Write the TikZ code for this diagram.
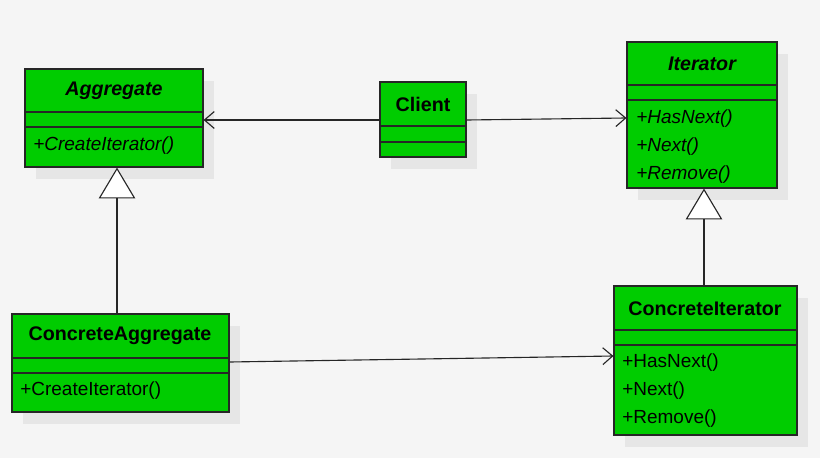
\documentclass[tikz,border=0pt]{standalone}
\usepackage{fontspec}
\setmainfont{Liberation Sans}
\usetikzlibrary{positioning,arrows.meta}
\definecolor{umlgreen}{HTML}{00CC00}
\definecolor{bgray}{HTML}{F5F5F5}
\definecolor{shgray}{HTML}{E6E6E6}
\tikzset{
  cls/.style={draw=black!85,thick,fill=umlgreen,inner sep=0pt},
  title/.style={font=\bfseries\fontsize{14}{16}\selectfont},
  meth/.style={font=\fontsize{13.5}{17}\selectfont,anchor=north west,align=left,inner sep=0pt},
  assoc/.style={draw=black!85,thick,-{Straight Barb[length=7pt,width=12pt]}},
  inherit/.style={draw=black!85,thick,-{Triangle[open,length=22pt,width=26pt,fill=white]}}
}
% box macro: name, left, top, right, bottom, line1, line2
\newcommand{\umlbox}[7]{%
  \fill[shgray] (#2+11,#3+12) rectangle (#4+11,#5+12);
  \node[cls,minimum width={(#4-#2)*0.025cm},minimum height={(#5-#3)*0.025cm}] (#1) at ({(#2+#4)/2},{(#3+#5)/2}) {};
  \draw[black!85,thick] (#2,#6) -- (#4,#6);
  \draw[black!85,thick] (#2,#7) -- (#4,#7);
}
\begin{document}
\begin{tikzpicture}[x=0.025cm,y=-0.025cm]
  \fill[bgray] (0,0) rectangle (820,458);
  \useasboundingbox (0,0) rectangle (820,458);

  \umlbox{aggr}{25}{69}{203}{167}{112}{127}
  \umlbox{client}{380}{82}{466}{157}{126}{142}
  \umlbox{iter}{627}{42}{777}{188}{85}{100}
  \umlbox{caggr}{12}{314}{229}{412}{358}{373}
  \umlbox{citer}{614}{286}{797}{435}{330}{345}

  \node[title,font=\bfseries\itshape\fontsize{14}{16}\selectfont] (aggrT) at (114,91) {Aggregate};
  \node[meth,font=\itshape\fontsize{13.5}{17}\selectfont] (aggrM) at (33,136) {+CreateIterator()};
  \node[title] (clientT) at (423,104) {Client};
  \node[title,font=\bfseries\itshape\fontsize{14}{16}\selectfont] (iterT) at (702,64) {Iterator};
  \node[meth,font=\itshape\fontsize{13.5}{20}\selectfont] (iterM) at (636,109) {+HasNext()\\+Next()\\+Remove()};
  \node[title] (caggrT) at (120,336) {ConcreteAggregate};
  \node[meth] (caggrM) at (20,381) {+CreateIterator()};
  \node[title] (citerT) at (705,309) {ConcreteIterator};
  \node[meth,font=\fontsize{13.5}{20}\selectfont] (citerM) at (622,353) {+HasNext()\\+Next()\\+Remove()};

  \draw[assoc] (client.west |- 0,120) -- (aggr.east |- 0,120);
  \draw[assoc] (client.east |- 0,120) -- (iter.west |- 0,118);
  \draw[assoc] (caggr.east |- 0,362) -- (citer.west |- 0,356);
  \draw[inherit] (caggr.north -| 117,0) -- (aggr.south -| 117,0);
  \draw[inherit] (citer.north -| 704,0) -- (iter.south -| 704,0);
\end{tikzpicture}
\end{document}
